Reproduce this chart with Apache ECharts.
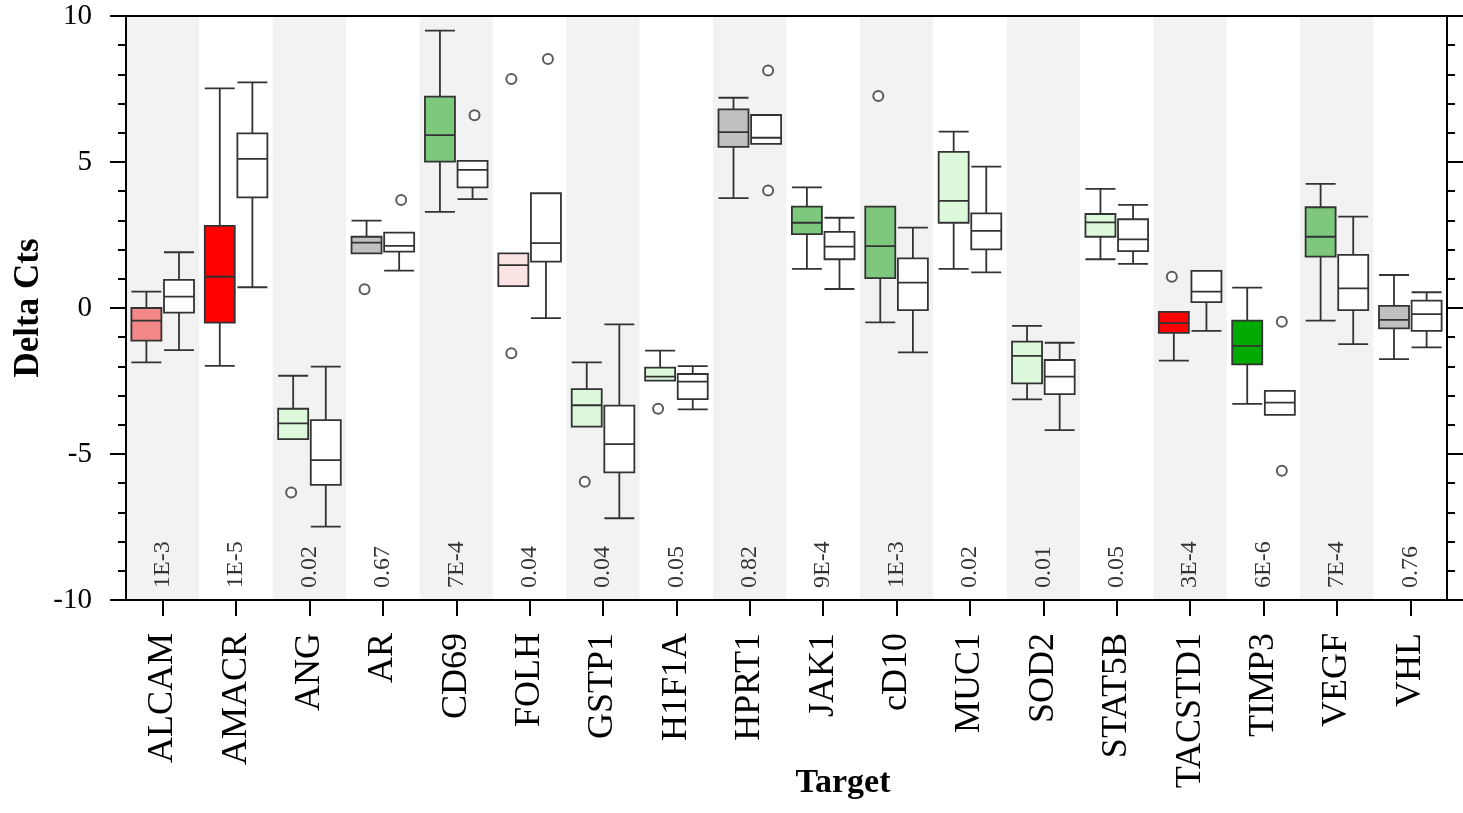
<!DOCTYPE html>
<html>
<head>
<meta charset="utf-8">
<script src="https://cdn.jsdelivr.net/npm/echarts@6/dist/echarts.min.js"></script>
<style>
html, body { margin: 0; padding: 0; background: #fff; }
#chart { width: 1463px; height: 813px; }
</style>
</head>
<body>
<div id="chart"></div>
<script>
// targets and p-values
var genes = ['ALCAM', 'AMACR', 'ANG', 'AR', 'CD69', 'FOLH', 'GSTP1', 'H1F1A', 'HPRT1',
  'JAK1', 'cD10', 'MUC1', 'SOD2', 'STAT5B', 'TACSTD1', 'TIMP3', 'VEGF', 'VHL'];
var pvals = ['1E-3', '1E-5', '0.02', '0.67', '7E-4', '0.04', '0.04', '0.05', '0.82',
  '9E-4', '1E-3', '0.02', '0.01', '0.05', '3E-4', '6E-6', '7E-4', '0.76'];

// [min, Q1, median, Q3, max] - coloured group
var tumorBoxes = [
  [-1.86, -1.12, -0.43, 0.00, 0.56],
  [-1.98, -0.50, 1.07, 2.81, 7.52],
  [-4.49, -4.49, -3.95, -3.45, -2.32],
  [1.87, 1.87, 2.24, 2.44, 2.99],
  [3.29, 5.01, 5.92, 7.24, 9.50],
  [0.75, 0.75, 1.47, 1.87, 1.87],
  [-4.06, -4.06, -3.33, -2.78, -1.86],
  [-2.49, -2.49, -2.35, -2.04, -1.46],
  [3.76, 5.52, 6.02, 6.80, 7.20],
  [1.34, 2.53, 2.92, 3.47, 4.13],
  [-0.49, 1.02, 2.12, 3.47, 3.47],
  [1.34, 2.92, 3.67, 5.35, 6.04],
  [-3.13, -2.58, -1.64, -1.15, -0.61],
  [1.67, 2.44, 2.93, 3.22, 4.08],
  [-1.80, -0.85, -0.52, -0.13, -0.13],
  [-3.28, -1.93, -1.30, -0.43, 0.70],
  [-0.43, 1.76, 2.44, 3.45, 4.25],
  [-1.75, -0.70, -0.41, 0.07, 1.13]
];
// [min, Q1, median, Q3, max] - white group
var normalBoxes = [
  [-1.44, -0.16, 0.39, 0.96, 1.91],
  [0.71, 3.79, 5.11, 5.98, 7.73],
  [-7.49, -6.06, -5.21, -3.84, -2.01],
  [1.28, 1.93, 2.13, 2.58, 2.58],
  [3.73, 4.13, 4.73, 5.04, 5.04],
  [-0.35, 1.59, 2.22, 3.93, 3.93],
  [-7.20, -5.63, -4.66, -3.34, -0.56],
  [-3.47, -3.12, -2.52, -2.26, -1.99],
  [5.62, 5.62, 5.83, 6.61, 6.61],
  [0.65, 1.67, 2.10, 2.61, 3.09],
  [-1.52, -0.07, 0.87, 1.70, 2.75],
  [1.22, 2.01, 2.64, 3.24, 4.84],
  [-4.18, -2.95, -2.35, -1.78, -1.19],
  [1.51, 1.95, 2.35, 3.04, 3.53],
  [-0.78, 0.20, 0.56, 1.27, 1.27],
  [-3.66, -3.66, -3.24, -2.84, -2.84],
  [-1.24, -0.07, 0.67, 1.82, 3.13],
  [-1.35, -0.78, -0.21, 0.25, 0.54]
];
var tumorColors = ['#f48787', '#ff0000', '#dcf9dc', '#c0c0c0', '#7dc87d', '#fde4e4',
  '#dcf9dc', '#dcf9dc', '#c0c0c0', '#7dc87d', '#7dc87d', '#dcf9dc', '#dcf9dc',
  '#dcf9dc', '#ff0000', '#00aa00', '#7dc87d', '#c0c0c0'];

var tumorOutliers = [['ANG', -6.32], ['AR', 0.64], ['FOLH', 7.84], ['FOLH', -1.55],
  ['GSTP1', -5.95], ['H1F1A', -3.45], ['cD10', 7.26], ['TACSTD1', 1.07]];
var normalOutliers = [['AR', 3.70], ['CD69', 6.60], ['FOLH', 8.53], ['HPRT1', 8.13],
  ['HPRT1', 4.02], ['TIMP3', -0.47], ['TIMP3', -5.57]];

var serif = 'Liberation Serif, Times New Roman, serif';

var chart = echarts.init(document.getElementById('chart'));

var tumorData = tumorBoxes.map(function (v, i) {
  return { value: v, itemStyle: { color: tumorColors[i] } };
});

var yBase = {
  type: 'value',
  min: -10,
  max: 10,
  interval: 5,
  splitLine: { show: false },
  axisLine: { show: true, onZero: false, lineStyle: { color: '#000', width: 2 } },
  axisTick: { show: true, length: 16, lineStyle: { color: '#000', width: 2 } },
  minorTick: { show: true, splitNumber: 5, length: 8, lineStyle: { color: '#000', width: 2 } }
};

chart.setOption({
  animation: false,
  grid: { left: 126, right: 16, top: 16, bottom: 213, outerBoundsMode: 'none', containLabel: false },
  xAxis: [
    {
      type: 'category',
      data: genes,
      position: 'bottom',
      axisLine: { onZero: false, lineStyle: { color: '#000', width: 2 } },
      axisTick: { length: 16, lineStyle: { color: '#000', width: 2 } },
      axisLabel: {
        interval: 0, rotate: 90, margin: 33,
        fontSize: 36, fontFamily: serif, color: '#000'
      },
      splitArea: { show: true, interval: 0, areaStyle: { color: ['#f2f2f2', '#ffffff'] } },
      name: 'Target',
      nameLocation: 'middle',
      nameGap: 166,
      nameMoveOverlap: false,
      nameTextStyle: {
        fontSize: 34, fontWeight: 'bold', fontFamily: serif, color: '#000',
        padding: [0, 0, 0, 113]
      }
    },
    {
      // p-values written inside the plot, ticks at box centres
      type: 'category',
      data: genes,
      position: 'bottom',
      axisLine: { show: false, onZero: false },
      axisTick: { show: true, alignWithLabel: true, length: 16, lineStyle: { color: '#000', width: 2 } },
      axisLabel: {
        interval: 0, inside: true, rotate: 90, margin: 12,
        fontSize: 24, fontFamily: serif, color: '#333',
        formatter: function (v, i) { return pvals[i]; }
      }
    },
    {
      type: 'category',
      data: genes,
      position: 'top',
      axisLine: { onZero: false, lineStyle: { color: '#000', width: 2 } },
      axisTick: { show: false },
      axisLabel: { show: false }
    }
  ],
  yAxis: [
    Object.assign({}, yBase, {
      position: 'left',
      axisLabel: { fontSize: 29, fontFamily: serif, color: '#000', margin: 34 },
      name: 'Delta Cts',
      nameLocation: 'middle',
      nameGap: 80,
      nameMoveOverlap: false,
      nameTextStyle: { fontSize: 35, fontWeight: 'bold', fontFamily: serif, color: '#000' }
    }),
    Object.assign({}, yBase, {
      position: 'right',
      axisLabel: { show: false }
    })
  ],
  series: [
    {
      name: 'tumor',
      type: 'boxplot',
      boxWidth: [30, 30],
      itemStyle: { borderColor: '#333', borderWidth: 1.8 },
      emphasis: { disabled: true },
      data: tumorData
    },
    {
      name: 'normal',
      type: 'boxplot',
      boxWidth: [30, 30],
      itemStyle: { color: '#fff', borderColor: '#333', borderWidth: 1.8 },
      emphasis: { disabled: true },
      data: normalBoxes
    },
    {
      type: 'scatter',
      symbol: 'emptyCircle',
      symbolSize: 10,
      symbolOffset: [-18.3, 0],
      itemStyle: { color: '#333', borderWidth: 1.6 },
      emphasis: { disabled: true },
      data: tumorOutliers
    },
    {
      type: 'scatter',
      symbol: 'emptyCircle',
      symbolSize: 10,
      symbolOffset: [18.3, 0],
      itemStyle: { color: '#333', borderWidth: 1.6 },
      emphasis: { disabled: true },
      data: normalOutliers
    }
  ]
});
</script>
</body>
</html>
